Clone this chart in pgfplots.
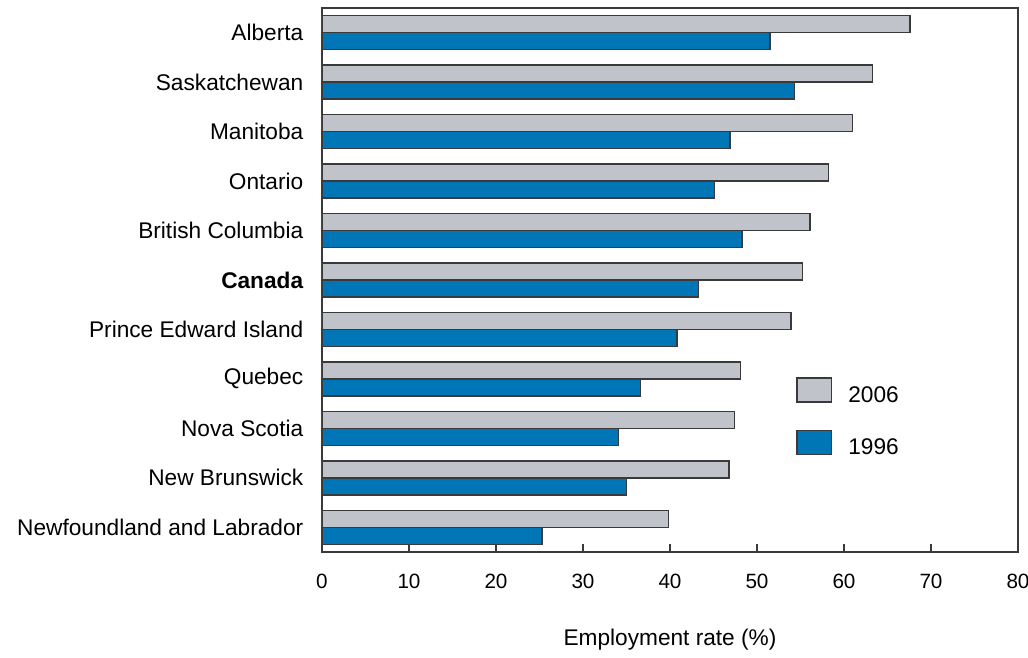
\documentclass[border=0pt]{standalone}
\usepackage{pgfplots}
\pgfplotsset{compat=1.18}
\usepackage{fontspec}
\setmainfont{Liberation Sans}

\definecolor{bargray}{HTML}{C0C3CA}
\definecolor{barblue}{HTML}{0076B6}
\definecolor{edge}{HTML}{3A3A3A}

\begin{document}
\begin{tikzpicture}[font=\fontsize{17}{20}\selectfont]
    \begin{axis}[
            name=ax,
            xbar,
            scale only axis,
            width=522pt,
            height=408pt,
            xmin=0, xmax=80,
            ymin=-0.5, ymax=10.5,
            xtick={0,10,...,80},
            ytick={0,...,10},
            yticklabels={Newfoundland and Labrador, New Brunswick, Nova Scotia, Quebec,
                Prince Edward Island, \textbf{Canada}, British Columbia, Ontario,
                Manitoba, Saskatchewan, Alberta},
            axis line style={edge, line width=1pt},
            tick align=inside,
            xtick pos=bottom,
            x tick style={edge, line width=1pt},
            major tick length=6pt,
            y tick style={draw=none},
            /pgf/number format/assume math mode=true,
            xticklabel style={yshift=-13pt, font=\fontsize{15.5}{18}\selectfont},
            yticklabel style={xshift=-10.5pt},
            xlabel={Employment rate (\%)},
            xlabel style={at={(axis description cs:0.5,0)}, anchor=center, yshift=-66pt},
            bar width=12.75pt,
            legend style={at={(rel axis cs:0.681,0.246)}, anchor=west, draw=none, fill=none,
                inner sep=0pt, row sep=17pt, column sep=10pt, cells={anchor=west}},
            legend image code/.code={\draw[#1] (0pt,-5pt) rectangle (26pt,13pt);},
        ]
        \addplot[fill=bargray, draw=edge, line width=1.1pt, bar shift=6.4pt] coordinates {
            (39.8,0) (46.8,1) (47.4,2) (48.1,3) (53.9,4) (55.2,5) (56.1,6) (58.2,7) (61.0,8) (63.3,9) (67.6,10)
        };
        \addplot[fill=barblue, draw=edge, line width=1.1pt, bar shift=-6.4pt] coordinates {
            (25.3,0) (35.0,1) (34.1,2) (36.6,3) (40.8,4) (43.3,5) (48.3,6) (45.1,7) (46.9,8) (54.3,9) (51.5,10)
        };
        \legend{2006, 1996}
    \end{axis}
    \pgfresetboundingbox
    \path (ax.south west) ++(-241.5pt,-78.75pt) coordinate (bl);
    \path (ax.north east) ++(7.5pt,6pt) coordinate (tr);
    \useasboundingbox (bl) rectangle (tr);
\end{tikzpicture}
\end{document}
